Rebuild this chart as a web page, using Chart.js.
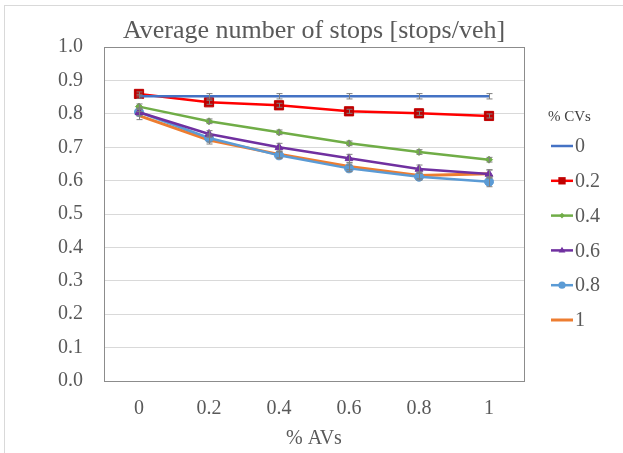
<!DOCTYPE html>
<html>
<head>
<meta charset="utf-8">
<script src="https://cdn.jsdelivr.net/npm/chart.js@4.4.1/dist/chart.umd.min.js"></script>
<style>
  html, body { margin: 0; padding: 0; background: #fff; }
  #wrap { position: relative; width: 623px; height: 453px; }
  #wrap:before { content: ""; position: absolute; left: 4px; top: 5px; right: 0; bottom: 0;
    border-left: 1.5px solid #d9d9d9; border-top: 1.5px solid #d9d9d9; pointer-events: none; }
  canvas { display: block; }
</style>
</head>
<body>
<div id="wrap"><canvas id="c" width="623" height="453"></canvas></div>
<script>
// ---- data ----
const categories = ['0', '0.2', '0.4', '0.6', '0.8', '1'];
const seriesNames = ['0', '0.2', '0.4', '0.6', '0.8', '1'];
const cv0  = [0.853, 0.853, 0.853, 0.853, 0.853, 0.853];
const cv02 = [0.860, 0.835, 0.826, 0.808, 0.802, 0.794];
const cv04 = [0.822, 0.778, 0.745, 0.712, 0.686, 0.663];
const cv06 = [0.805, 0.740, 0.700, 0.667, 0.635, 0.620];
const cv08 = [0.806, 0.728, 0.676, 0.637, 0.612, 0.597];
const cv10 = [0.795, 0.722, 0.679, 0.643, 0.616, 0.621];
const err0  = [0.006, 0.008, 0.008, 0.008, 0.008, 0.008];
const err02 = [0.006, 0.006, 0.006, 0.006, 0.006, 0.006];
const err04 = [0.008, 0.007, 0.007, 0.007, 0.007, 0.007];
const err06 = [0.010, 0.010, 0.012, 0.012, 0.012, 0.012];
const err08 = [0.012, 0.012, 0.010, 0.010, 0.010, 0.015];
const err10 = [0.012, 0.012, 0.010, 0.010, 0.010, 0.012];
const yTicks = [0, 0.1, 0.2, 0.3, 0.4, 0.5, 0.6, 0.7, 0.8, 0.9, 1.0];
const chartTitle = 'Average number of stops [stops/veh]';
const xTitle = '% AVs';
const legendTitle = '% CVs';

const FONT = "'Liberation Serif', 'DejaVu Serif', serif";
const TXT = '#595959';

const styles = [
  {c: '#4472C4', fill: '#4472C4', p: false,    r: 0,   lw: 2.5},
  {c: '#FF0000', fill: '#C00000', p: 'rect',   r: 6.5, lw: 2.5},
  {c: '#70AD47', fill: '#70AD47', p: 'rectRot',r: 3.5, lw: 2.5},
  {c: '#7030A0', fill: '#7030A0', p: 'triangle', r: 4.5, lw: 2.5},
  {c: '#5B9BD5', fill: '#5B9BD5', p: 'circle', r: 4.5, lw: 2.5},
  {c: '#ED7D31', fill: '#ED7D31', p: false,    r: 0,   lw: 3}
];
const values = [cv0, cv02, cv04, cv06, cv08, cv10];
const errs = [err0, err02, err04, err06, err08, err10];

const datasets = values.map((v, i) => ({
  label: seriesNames[i],
  data: v,
  errors: errs[i],
  borderColor: styles[i].c,
  backgroundColor: styles[i].fill,
  borderWidth: styles[i].lw,
  pointStyle: styles[i].p,
  pointRadius: styles[i].r,
  pointBorderColor: styles[i].fill,
  pointBackgroundColor: styles[i].fill,
  pointBorderWidth: 1,
  tension: 0,
  order: i
}));

function drawMarker(ctx, style, x, y, r, fill) {
  ctx.save();
  ctx.fillStyle = fill;
  ctx.beginPath();
  if (style === 'rect') {
    const s = r * Math.SQRT1_2;
    ctx.rect(x - s, y - s, 2 * s, 2 * s);
  } else if (style === 'rectRot') {
    ctx.moveTo(x, y - r); ctx.lineTo(x + r, y); ctx.lineTo(x, y + r); ctx.lineTo(x - r, y); ctx.closePath();
  } else if (style === 'triangle') {
    ctx.moveTo(x, y - r); ctx.lineTo(x + r * 0.95, y + r * 0.6); ctx.lineTo(x - r * 0.95, y + r * 0.6); ctx.closePath();
  } else if (style === 'circle') {
    ctx.arc(x, y, r, 0, Math.PI * 2);
  }
  ctx.fill();
  ctx.restore();
}

const customPlugin = {
  id: 'custom',
  beforeDatasetsDraw(chart) {
    const {ctx, chartArea: a} = chart;
    ctx.save();
    ctx.strokeStyle = '#8c8c8c';
    ctx.lineWidth = 1;
    ctx.strokeRect(Math.round(a.left) + 0.5, Math.round(a.top) + 0.5, Math.round(a.right - a.left), Math.round(a.bottom - a.top));
    ctx.restore();
  },
  afterDatasetsDraw(chart) {
    const {ctx} = chart;
    const xs = chart.scales.x, ys = chart.scales.y;
    ctx.save();
    ctx.strokeStyle = '#7f7f7f';
    ctx.lineWidth = 1;
    chart.data.datasets.forEach(ds => {
      ds.data.forEach((v, j) => {
        const e = ds.errors[j];
        const x = Math.round(xs.getPixelForValue(j)) + 0.5;
        const y1 = ys.getPixelForValue(v + e), y2 = ys.getPixelForValue(v - e);
        ctx.beginPath();
        ctx.moveTo(x, y1); ctx.lineTo(x, y2);
        ctx.moveTo(x - 3, y1); ctx.lineTo(x + 3, y1);
        ctx.moveTo(x - 3, y2); ctx.lineTo(x + 3, y2);
        ctx.stroke();
      });
    });
    ctx.restore();
  },
  afterDraw(chart) {
    const {ctx, chartArea: a} = chart;
    const left = a.right + 24;
    ctx.save();
    ctx.fillStyle = '#404040';
    ctx.font = "15px " + FONT;
    ctx.textBaseline = 'middle';
    ctx.textAlign = 'left';
    ctx.fillText(legendTitle, left, 117);
    chart.data.datasets.forEach((ds, i) => {
      const y = 146 + i * 34.8;
      const x0 = left + 3, x1 = left + 25;
      ctx.strokeStyle = ds.borderColor;
      ctx.lineWidth = ds.borderWidth;
      ctx.beginPath(); ctx.moveTo(x0, y); ctx.lineTo(x1, y); ctx.stroke();
      if (ds.pointStyle) drawMarker(ctx, ds.pointStyle, (x0 + x1) / 2, y, ds.pointRadius * 0.8, ds.pointBackgroundColor);
      ctx.fillStyle = TXT;
      ctx.font = "20px " + FONT;
      ctx.fillText(ds.label, x1 + 2, y + 1);
    });
    ctx.restore();
  }
};

new Chart(document.getElementById('c'), {
  type: 'line',
  data: { labels: categories, datasets },
  plugins: [customPlugin],
  options: {
    responsive: false,
    animation: false,
    layout: { padding: { left: 0, right: 99, top: 0, bottom: 2 } },
    plugins: {
      legend: { display: false },
      tooltip: { enabled: false },
      title: {
        display: true, text: chartTitle, fullSize: false,
        color: TXT, font: { family: FONT, size: 26, weight: 'normal' },
        lineHeight: 1.2,
        padding: { top: 16, bottom: 0 }
      }
    },
    scales: {
      x: {
        type: 'category', offset: true,
        grid: { display: false, drawTicks: false },
        border: { display: false },
        ticks: { color: TXT, font: { family: FONT, size: 20 }, padding: 16 },
        title: { display: true, text: xTitle, color: TXT, font: { family: FONT, size: 20 }, padding: { top: 4, bottom: 0 } },
        afterFit(s) { s.height = 70; }
      },
      y: {
        min: 0, max: 1,
        afterBuildTicks(s) { s.ticks = yTicks.map(v => ({ value: v })); },
        grid: { color: '#d9d9d9', lineWidth: 1, drawTicks: false },
        border: { display: false },
        ticks: { color: TXT, font: { family: FONT, size: 20 }, padding: 21,
                 callback: v => Number(v).toFixed(1) },
        afterFit(s) { s.width = 104; }
      }
    }
  }
});
</script>
</body>
</html>
